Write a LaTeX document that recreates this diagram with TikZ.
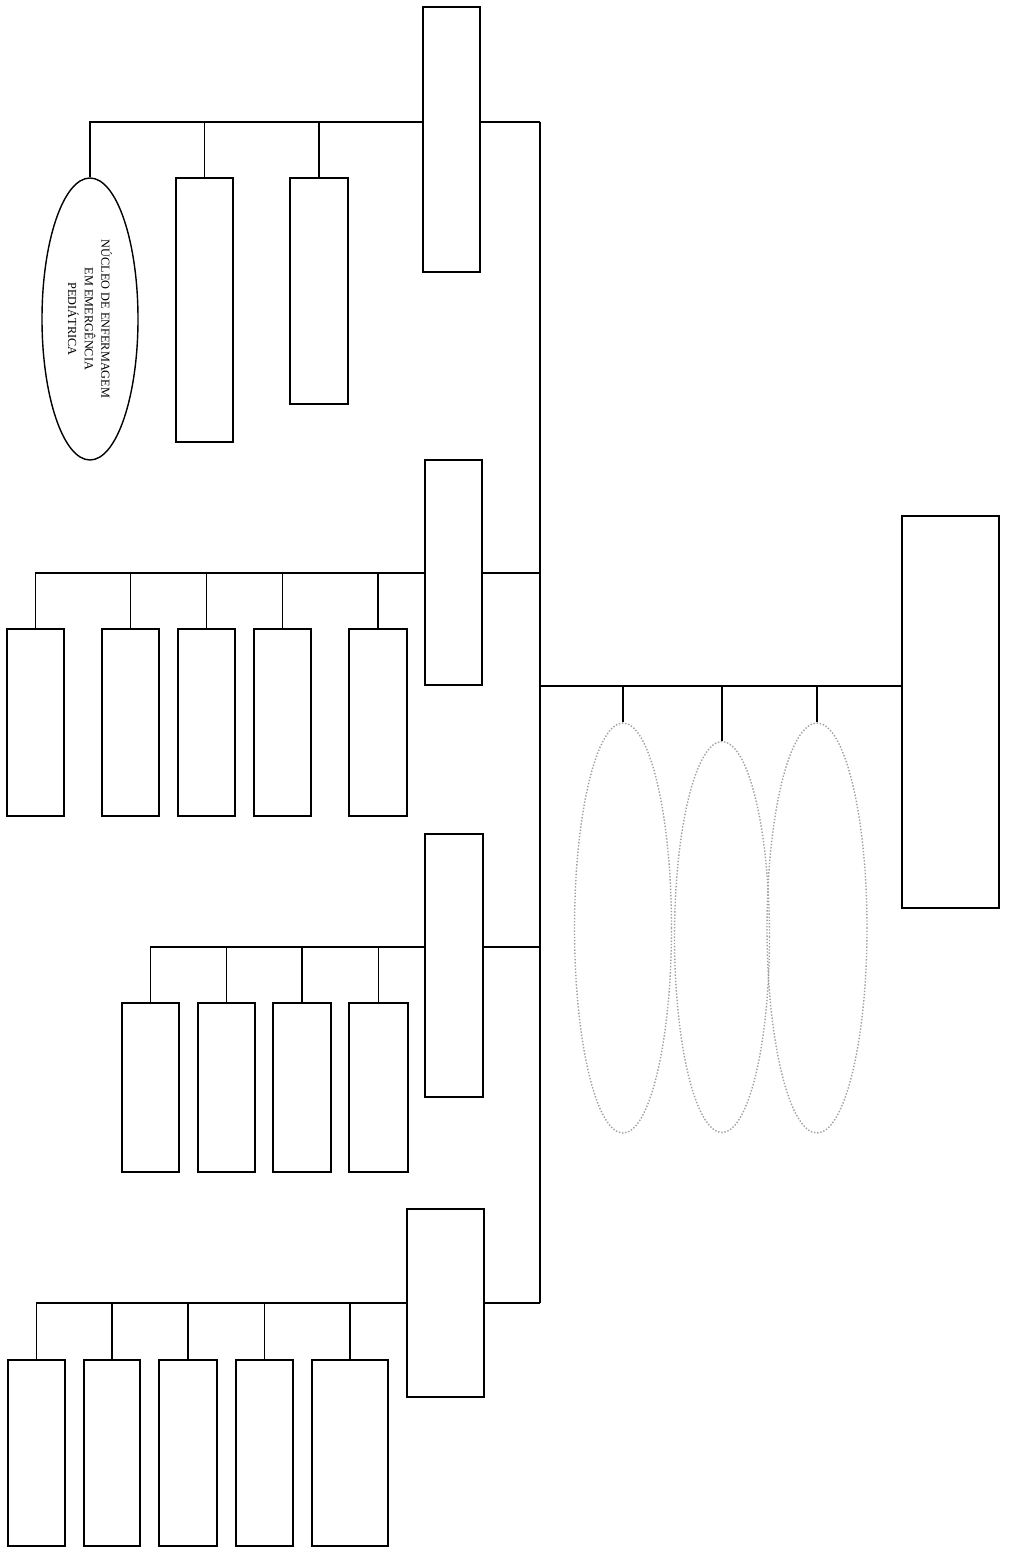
\documentclass[tikz,border=0pt]{standalone}
\usepackage{fontspec}
\setmainfont{Liberation Serif}
\usetikzlibrary{shapes.geometric}
\definecolor{dots}{HTML}{A0A0A0}
\tikzset{
  box/.style 2 args={rectangle,draw=black,line width=.9pt,inner sep=0pt,
    minimum width={#1*0.02cm},minimum height={#2*0.02cm}},
  oval/.style 2 args={ellipse,draw=black,line width=.8pt,inner sep=0pt,align=center,
    font=\fontsize{7}{9.5}\selectfont,minimum width={#1*0.02cm},minimum height={#2*0.02cm}},
  dotoval/.style 2 args={ellipse,draw=dots,densely dotted,line width=.8pt,inner sep=0pt,
    minimum width={#1*0.02cm},minimum height={#2*0.02cm}},
  ln/.style={draw=black,line width=.9pt},
}

\begin{document}
\begin{tikzpicture}[x=0.02cm,y=-0.02cm]
  \useasboundingbox (0,0) rectangle (1015,1547);
  \node[box={97}{392}] (top) at (950.5,712) {};
  \node[dotoval={97}{410}] (d1) at (623,928) {};
  \node[dotoval={95}{391}] (d2) at (722,937) {};
  \node[dotoval={100}{410}] (d3) at (817,928) {};
  \coordinate (s1) at (540,122); \coordinate (s2) at (540,573);
  \coordinate (s3) at (540,947); \coordinate (s4) at (540,1303);
  \coordinate (j0) at (540,686);
  % first branch
  \node[box={57}{265}] (h1) at (451.5,139.5) {};
  \node[oval={282}{96},rotate=-90] (e11) at (90,319)
    {NÚCLEO DE ENFERMAGEM\\EM EMERGÊNCIA\\PEDIÁTRICA};
  \node[box={57}{264}] (c12) at (204.5,310) {};
  \node[box={58}{226}] (c13) at (319,291) {};
  % second branch
  \node[box={57}{225}] (h2) at (453.5,572.5) {};
  \node[box={57}{187}] (c21) at (35.5,722.5) {};
  \node[box={57}{187}] (c22) at (130.5,722.5) {};
  \node[box={57}{187}] (c23) at (206.5,722.5) {};
  \node[box={57}{187}] (c24) at (282.5,722.5) {};
  \node[box={58}{187}] (c25) at (378,722.5) {};
  % third branch
  \node[box={58}{263}] (h3) at (454,965.5) {};
  \node[box={57}{169}] (c31) at (150.5,1087.5) {};
  \node[box={57}{169}] (c32) at (226.5,1087.5) {};
  \node[box={58}{169}] (c33) at (302,1087.5) {};
  \node[box={59}{169}] (c34) at (378.5,1087.5) {};
  % fourth branch
  \node[box={77}{188}] (h4) at (445.5,1303) {};
  \node[box={57}{186}] (c41) at (36.5,1453) {};
  \node[box={56}{186}] (c42) at (112,1453) {};
  \node[box={58}{186}] (c43) at (188,1453) {};
  \node[box={57}{186}] (c44) at (264.5,1453) {};
  \node[box={76}{186}] (c45) at (350,1453) {};

  \draw[ln] (s1) -- (s4); \draw[ln] (j0) -- (j0 -| top.west);
  \foreach \o in {d1,d2,d3} \draw[ln] (\o.north) -- (\o.north |- j0);
  \draw[ln] (s1) -- (s1 -| h1.east); \draw[ln] (s1 -| h1.west) -| (e11.west);
  \foreach \c in {c12,c13} \draw[ln] (\c.north) -- (\c.north |- s1);
  \draw[ln] (s2) -- (s2 -| h2.east); \draw[ln] (s2 -| h2.west) -| (c21.north);
  \foreach \c in {c22,c23,c24,c25} \draw[ln] (\c.north) -- (\c.north |- s2);
  \draw[ln] (s3) -- (s3 -| h3.east); \draw[ln] (s3 -| h3.west) -| (c31.north);
  \foreach \c in {c32,c33,c34} \draw[ln] (\c.north) -- (\c.north |- s3);
  \draw[ln] (s4) -- (h4.east); \draw[ln] (h4.west) -| (c41.north);
  \foreach \c in {c42,c43,c44,c45} \draw[ln] (\c.north) -- (\c.north |- s4);
\end{tikzpicture}
\end{document}
